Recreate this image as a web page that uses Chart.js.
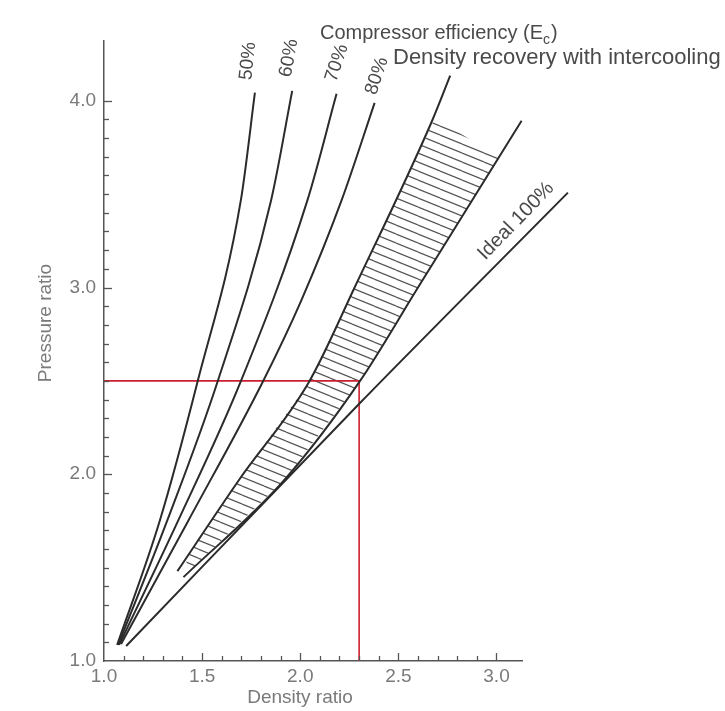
<!DOCTYPE html>
<html>
<head>
<meta charset="utf-8">
<script src="https://cdn.jsdelivr.net/npm/chart.js@4.4.1/dist/chart.umd.min.js"></script>
<style>
html,body{margin:0;padding:0;background:#fff;}
#wrap{width:725px;height:711px;position:relative;}
</style>
</head>
<body>
<div id="wrap"><canvas id="c" width="725" height="711"></canvas></div>
<script>
// ---- data ----
const xTickValues = [1.0, 1.5, 2.0, 2.5, 3.0];
const xTickLabels = ['1.0', '1.5', '2.0', '2.5', '3.0'];
const yTickValues = [1, 2, 3, 4];
const yTickLabels = ['1.0', '2.0', '3.0', '4.0'];

const eff50 = [[1.067,1.086],[1.285,1.754],[1.477,2.497],[1.697,3.465],[1.769,4.043]];
const eff60 = [[1.072,1.086],[1.323,1.754],[1.579,2.497],[1.851,3.465],[1.959,4.053]];
const eff70 = [[1.077,1.086],[1.379,1.754],[1.697,2.497],[2.036,3.465],[2.185,4.037]];
const eff80 = [[1.087,1.091],[1.431,1.754],[1.810,2.497],[2.005,2.930],[2.210,3.465],[2.379,3.989]];
const recoveryUpper = [[1.374,1.481],[1.687,1.968],[2.046,2.497],[2.277,3.0],[2.672,3.893],[2.764,4.134]];
const recoveryLower = [[1.405,1.449],[1.918,1.968],[2.303,2.497],[2.600,3.0],[3.128,3.893]];
const ideal100 = [[1.113,1.080],[2.303,2.38],[3.364,3.508]];
const hatchBand = [[1.415,1.540],[1.687,1.968],[2.046,2.497],[2.277,3.0],[2.687,3.909],
                   [3.015,3.695],[2.600,3.0],[2.303,2.497],[1.918,1.968],[1.441,1.487]];
const example = [[1.0,2.5],[2.30,2.5],[2.30,1.0]];

// ---- helpers ----
const pts = a => a.map(([x, y]) => ({x, y}));
const FONT = "'Liberation Sans', Arial, Helvetica, sans-serif";
function curve(data, extra) {
  return Object.assign({
    data: pts(data), showLine: true, borderColor: '#2b2b2b', borderWidth: 2,
    pointRadius: 0, fill: false, clip: false, cubicInterpolationMode: 'monotone'
  }, extra || {});
}

const HATCH_INDEX = 0;
const hatchPlugin = {
  id: 'hatch',
  beforeDatasetsDraw(chart) {
    const ctx = chart.ctx;
    const meta = chart.getDatasetMeta(HATCH_INDEX);
    const w = 22, h = 9;
    const tile = document.createElement('canvas');
    tile.width = w; tile.height = h;
    const g = tile.getContext('2d');
    g.strokeStyle = '#555'; g.lineWidth = 1.2;
    for (const off of [-h, 0, h]) { g.beginPath(); g.moveTo(0, off); g.lineTo(w, off + h); g.stroke(); }
    const pattern = ctx.createPattern(tile, 'repeat');
    ctx.save();
    ctx.beginPath();
    meta.data.forEach((p, i) => { if (i) ctx.lineTo(p.x, p.y); else ctx.moveTo(p.x, p.y); });
    ctx.closePath();
    ctx.fillStyle = pattern;
    ctx.fill();
    ctx.restore();
  }
};

const ticksPlugin = {
  id: 'innerTicks',
  afterDraw(chart) {
    const {ctx, scales: {x, y}} = chart;
    ctx.save();
    ctx.strokeStyle = '#555'; ctx.lineWidth = 1.3;
    for (let i = 11; i <= 30; i++) {
      const px = Math.round(x.getPixelForValue(i / 10)) + 0.5;
      const len = (i % 5 === 0) ? 8 : 5;
      ctx.beginPath(); ctx.moveTo(px, y.bottom); ctx.lineTo(px, y.bottom - len); ctx.stroke();
    }
    for (let i = 11; i <= 40; i++) {
      const py = Math.round(y.getPixelForValue(i / 10)) + 0.5;
      const len = (i % 10 === 0) ? 8 : 5;
      ctx.beginPath(); ctx.moveTo(x.left, py); ctx.lineTo(x.left + len, py); ctx.stroke();
    }
    ctx.restore();
  }
};

function rotText(ctx, txt, cx, cy, deg) {
  ctx.save(); ctx.translate(cx, cy); ctx.rotate(deg * Math.PI / 180);
  ctx.textAlign = 'center'; ctx.textBaseline = 'middle';
  ctx.fillText(txt, 0, 0); ctx.restore();
}

const textPlugin = {
  id: 'texts',
  afterDraw(chart) {
    const ctx = chart.ctx;
    ctx.save();
    // axis titles
    ctx.fillStyle = '#7a7a7a';
    ctx.font = '19px ' + FONT;
    rotText(ctx, 'Pressure ratio', 46, 323, -90);
    rotText(ctx, 'Density ratio', 300, 698, 0);
    // annotations
    ctx.fillStyle = '#4a4a4a';
    ctx.font = '20px ' + FONT;
    ctx.textAlign = 'left'; ctx.textBaseline = 'alphabetic';
    const t1 = 'Compressor efficiency (E';
    ctx.fillText(t1, 320, 39);
    const w1 = ctx.measureText(t1).width;
    ctx.font = '14px ' + FONT;
    ctx.fillText('c', 320 + w1, 44);
    const wc = ctx.measureText('c').width;
    ctx.font = '20px ' + FONT;
    ctx.fillText(')', 320 + w1 + wc + 1, 39);
    ctx.font = '22px ' + FONT;
    ctx.fillText('Density recovery with intercooling', 393, 64);
    ctx.font = '19px ' + FONT;
    rotText(ctx, '50%', 248, 61, -84);
    rotText(ctx, '60%', 289, 58, -80);
    rotText(ctx, '70%', 337, 63, -72);
    rotText(ctx, '80%', 377, 76, -72);
    ctx.font = '20px ' + FONT;
    rotText(ctx, 'Ideal 100%', 516, 221, -46);
    ctx.restore();
  }
};

new Chart(document.getElementById('c'), {
  type: 'scatter',
  data: {
    datasets: [
      {label: 'hatch', data: pts(hatchBand), showLine: false, pointRadius: 0, clip: false},
      curve(eff50, {label: '50%'}),
      curve(eff60, {label: '60%'}),
      curve(eff70, {label: '70%'}),
      curve(eff80, {label: '80%'}),
      curve(recoveryUpper, {label: 'Density recovery with intercooling'}),
      curve(recoveryLower, {label: 'recovery lower'}),
      curve(ideal100, {label: 'Ideal 100%'}),
      {label: 'example', data: pts(example), showLine: true, borderColor: '#cc1f2f', borderWidth: 1.6,
       pointRadius: 0, fill: false, clip: false, tension: 0}
    ]
  },
  options: {
    responsive: false,
    animation: false,
    events: [],
    layout: {padding: {left: 0, top: 41, right: 203, bottom: 0}},
    plugins: {legend: {display: false}, tooltip: {enabled: false}},
    scales: {
      x: {
        type: 'linear', min: 1.0, max: 3.13,
        afterBuildTicks: s => { s.ticks = xTickValues.map(v => ({value: v})); },
        afterFit: s => { s.height = 50; },
        ticks: {
          callback: v => xTickLabels[xTickValues.indexOf(v)],
          color: '#7a7a7a', font: {family: FONT, size: 19}, padding: 4,
          maxRotation: 0, autoSkip: false
        },
        grid: {display: false, drawTicks: false},
        border: {display: true, color: '#555', width: 1.5}
      },
      y: {
        type: 'linear', min: 1.0, max: 4.32,
        afterBuildTicks: s => { s.ticks = yTickValues.map(v => ({value: v})); },
        afterFit: s => { s.width = 104; },
        ticks: {
          callback: v => yTickLabels[yTickValues.indexOf(v)],
          color: '#7a7a7a', font: {family: FONT, size: 19}, padding: 8, autoSkip: false
        },
        grid: {display: false, drawTicks: false},
        border: {display: true, color: '#555', width: 1.5}
      }
    }
  },
  plugins: [hatchPlugin, ticksPlugin, textPlugin]
});
</script>
</body>
</html>
